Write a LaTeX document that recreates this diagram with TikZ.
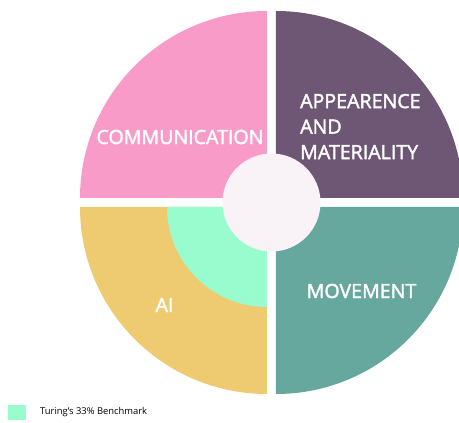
\documentclass[tikz,border=0pt]{standalone}
\usepackage{fontspec}
\setmainfont{Open Sans}
\newfontfamily\quadfont{Open Sans}[FakeBold=2]
\usepackage{tikz}
\definecolor{commpink}{HTML}{F99BC9}
\definecolor{matpurple}{HTML}{6E5675}
\definecolor{moveteal}{HTML}{67A89E}
\definecolor{aiyellow}{HTML}{EECB70}
\definecolor{turingmint}{HTML}{98FCCE}
\definecolor{centrewhite}{HTML}{F9F2F6}

\begin{document}
\begin{tikzpicture}[x=1pt, y=1pt,
        quadtext/.style={text=white, inner sep=0pt, font=\quadfont\fontsize{19.6}{25.5}\selectfont}]

        \useasboundingbox (-271.5,-220.5) rectangle (187.5,202.5);
        \clip (-271.5,-220.5) rectangle (187.5,202.5);

        % Communication
        \fill[commpink] (-4.5,4.5) -- (-191.5,4.5) arc[start angle=180, end angle=90, radius=187] -- cycle;

        % Appearence and materiality
        \fill[matpurple] (4.5,4.5) -- (4.5,191.5) arc[start angle=90, end angle=0, radius=187] -- cycle;

        % Movement
        \fill[moveteal] (4.5,-4.5) -- (191.5,-4.5) arc[start angle=0, end angle=-90, radius=187] -- cycle;

        % AI
        \fill[aiyellow] (-4.5,-4.5) -- (-4.5,-191.5) arc[start angle=-90, end angle=-180, radius=187] -- cycle;

        % Turing benchmark
        \fill[turingmint] (-4.5,-4.5) -- (-104.5,-4.5) arc[start angle=180, end angle=270, radius=100] -- cycle;

        % Centre
        \fill[centrewhite] (0,0) circle (49);

        % Labels
        \node[quadtext] (comm) at (-91.5,65.5) {COMMUNICATION};
        \node[quadtext, align=left, anchor=west] (appear) at (28.5,76) {APPEARENCE\\AND\\MATERIALITY};
        \node[quadtext] (move) at (90,-88.5) {MOVEMENT};
        \node[quadtext] (ai) at (-107,-102.5) {AI};

        % Legend
        \fill[turingmint] (-263.5,-202.5) rectangle (-245.5,-217.5);
        \node[anchor=west, inner sep=0pt, font=\fontsize{9.4}{11}\selectfont] (legend) at (-231.5,-210) {Turing's 33\% Benchmark};

\end{tikzpicture}
\end{document}
